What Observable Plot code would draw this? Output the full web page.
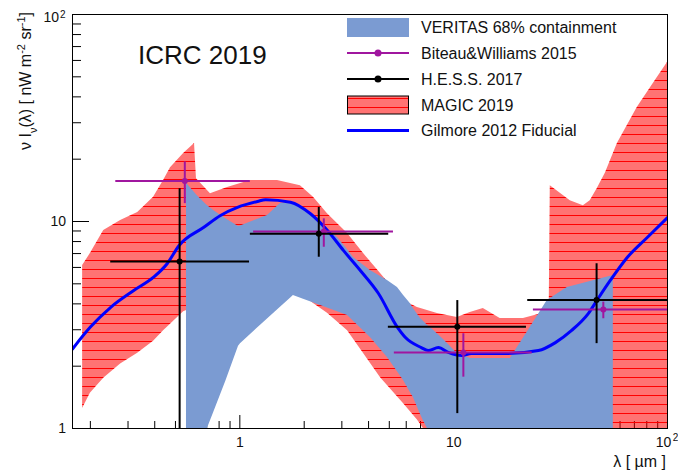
<!DOCTYPE html>
<html>
<head>
<meta charset="utf-8">
<script src="https://cdn.jsdelivr.net/npm/d3@7"></script>
<script src="https://cdn.jsdelivr.net/npm/@observablehq/plot@0.6"></script>
<style>
  body { margin: 0; background: #fff; }
  svg { display: block; }
</style>
</head>
<body>
<div id="chart"></div>
<script>
// ---- Extragalactic background light: nu I_nu(lambda) in nW m^-2 sr^-1 vs lambda in um ----

// VERITAS 68% containment band
const veritasLambda = [0.563, 0.63, 0.70, 0.754, 0.86, 0.986, 1.007, 1.347, 1.549, 1.725, 1.78, 1.985, 2.385, 2.863, 3.19, 3.40, 4.08, 4.90, 5.46, 5.82, 6.28, 6.48, 7.0, 7.22, 7.54, 8.0, 8.94, 10.4, 12.0, 18.4, 22.3, 27.4, 34.0, 55.8];
const veritasHigh   = [15.3, 13.4, 12.0, 11.3, 10.3, 9.46, 9.5, 10.7, 12.2, 12.4, 12.3, 11.6, 9.78, 8.37, 7.3, 6.70, 5.80, 5.19, 4.80, 4.4, 4.0, 3.8, 3.4, 3.3, 3.15, 3.0, 2.7, 2.3, 2.18, 2.18, 2.97, 4.15, 4.80, 5.48];
const veritasLow    = [0.95, 0.96, 0.98, 1.19, 1.69, 2.50, 2.57, 3.38, 3.85, 4.26, 4.39, 4.21, 3.93, 3.66, 3.51, 3.30, 2.75, 2.20, 1.88, 1.71, 1.49, 1.41, 1.17, 1.09, 1.0, 0.9, 0.8, 0.7, 0.7, 0.6, 0.6, 0.6, 0.5, 0.5];

// MAGIC 2019 band
const magicLambda = [0.184, 0.200, 0.231, 0.277, 0.333, 0.395, 0.440, 0.474, 0.546, 0.614, 0.627, 0.729, 0.876, 1.122, 1.50, 1.92, 2.21, 2.57, 3.19, 3.79, 4.55, 5.82, 6.77, 8.39, 10.4, 11.96, 13.76, 16.5, 21.2, 25.97, 28.0, 28.3, 35.1, 40.4, 43.5, 46.9, 51.2, 58.3, 72.2, 87.7, 100];
const magicHigh   = [6.13, 7.0, 9.05, 10.1, 11.05, 13.1, 15.8, 18.2, 21.3, 23.8, 16.1, 13.6, 14.6, 15.8, 15.8, 14.9, 13.1, 10.9, 8.75, 7.0, 5.61, 4.15, 3.84, 3.59, 3.44, 3.63, 3.80, 3.40, 3.40, 3.59, 4.15, 14.9, 12.6, 11.9, 12.6, 14.4, 17.1, 23.8, 35.5, 48.0, 58.6];
const magicLow    = [1.25, 1.48, 1.75, 2.05, 2.31, 2.64, 2.97, 3.19, 3.66, 3.85, 3.9, 4.1, 4.3, 4.55, 4.6, 4.5, 4.02, 3.6, 2.97, 2.30, 1.76, 1.32, 1.1, 0.8, 0.5, 0.5, 0.5, 0.5, 0.5, 0.5, 0.5, 0.5, 0.5, 0.5, 0.5, 0.5, 0.5, 0.5, 0.5, 0.5, 0.5];

// Gilmore 2012 fiducial model
const gilmoreLambda = [0.165, 0.2, 0.249, 0.319, 0.395, 0.458, 0.52, 0.676, 0.812, 0.975, 1.21, 1.32, 1.725, 2.14, 2.57, 3.05, 3.66, 4.45, 5.46, 5.95, 7.06, 7.6, 8.48, 9.44, 10.9, 12.1, 17.5, 24.9, 29.9, 35.5, 42.6, 47.4, 54.0, 64.8, 80.4, 100];
const gilmoreNuI    = [2.42, 3.09, 3.85, 4.64, 5.38, 6.27, 7.66, 9.35, 10.7, 11.7, 12.5, 12.75, 12.4, 10.9, 9.05, 7.25, 5.80, 4.49, 3.08, 2.75, 2.46, 2.38, 2.46, 2.33, 2.25, 2.30, 2.30, 2.38, 2.60, 2.97, 3.59, 4.25, 5.19, 6.70, 8.37, 10.45];

// Biteau & Williams 2015
const biteauLambda     = [0.553, 2.47, 11.1, 50.1];
const biteauLambdaLow  = [0.263, 1.16, 5.28, 23.6];
const biteauLambdaHigh = [1.12, 5.23, 23.3, 106];
const biteauNuI        = [15.7, 8.95, 2.33, 3.76];
const biteauNuILow     = [12.2, 7.51, 1.77, 3.39];
const biteauNuIHigh    = [19.4, 10.3, 2.87, 4.08];

// H.E.S.S. 2017
const hessLambda     = [0.523, 2.34, 10.4, 46.6];
const hessLambdaLow  = [0.249, 1.12, 4.95, 22.2];
const hessLambdaHigh = [1.11, 4.97, 21.9, 100];
const hessNuI        = [6.41, 8.72, 3.10, 4.18];
const hessNuILow     = [0.5, 6.72, 1.18, 2.57];
const hessNuIHigh    = [14.4, 11.7, 4.15, 6.25];

// Axis ticks
const decadeTicks = [1, 10, 100];
const xMinorTicks = [0.2, 0.3, 0.4, 0.5, 0.6, 0.7, 0.8, 0.9, 2, 3, 4, 5, 6, 7, 8, 9, 20, 30, 40, 50, 60, 70, 80, 90];
const yMinorTicks = [2, 3, 4, 5, 6, 7, 8, 9, 20, 30, 40, 50, 60, 70, 80, 90];

const legendLabels = ["VERITAS 68% containment", "Biteau&Williams 2015", "H.E.S.S. 2017", "MAGIC 2019", "Gilmore 2012 Fiducial"];
const plotTitle = "ICRC 2019";

const FONT = "'Liberation Sans', Arial, Helvetica, sans-serif";
const VERITAS_BLUE = "#7b9bd2";
const PURPLE = "#a0169f";
const GILMORE_BLUE = "#0000ff";
const MAGIC_FILL = "url(#magicHatch)";

const veritas = veritasLambda.map((x, i) => ({x, lo: veritasLow[i], hi: veritasHigh[i]}));
const magic = magicLambda.map((x, i) => ({x, lo: magicLow[i], hi: magicHigh[i]}));
const gilmore = gilmoreLambda.map((x, i) => ({x, y: gilmoreNuI[i]}));
const biteau = biteauLambda.map((x, i) => ({x, y: biteauNuI[i], xlo: biteauLambdaLow[i], xhi: biteauLambdaHigh[i], ylo: biteauNuILow[i], yhi: biteauNuIHigh[i]}));
const hess = hessLambda.map((x, i) => ({x, y: hessNuI[i], xlo: hessLambdaLow[i], xhi: hessLambdaHigh[i], ylo: hessNuILow[i], yhi: hessNuIHigh[i]}));

const noText = () => "";

// Legend drawn in the upper right of the frame, plus the conference label
function legend() {
  const g = d3.create("svg:g").attr("font-family", FONT).attr("font-size", 16).attr("fill", "#111").attr("text-anchor", "start");
  const x0 = 347, x1 = 409, xt = 421, rows = [27.5, 53, 79, 105, 130.5];
  g.append("rect").attr("x", x0).attr("y", rows[0] - 9.5).attr("width", x1 - x0).attr("height", 19).attr("fill", VERITAS_BLUE);
  g.append("line").attr("x1", x0).attr("x2", x1).attr("y1", rows[1]).attr("y2", rows[1]).attr("stroke", PURPLE).attr("stroke-width", 2);
  g.append("circle").attr("cx", (x0 + x1) / 2).attr("cy", rows[1]).attr("r", 3.5).attr("fill", PURPLE);
  g.append("line").attr("x1", x0).attr("x2", x1).attr("y1", rows[2]).attr("y2", rows[2]).attr("stroke", "black").attr("stroke-width", 2);
  g.append("circle").attr("cx", (x0 + x1) / 2).attr("cy", rows[2]).attr("r", 3.5).attr("fill", "black");
  g.append("rect").attr("x", x0 + 0.5).attr("y", rows[3] - 9).attr("width", x1 - x0 - 1).attr("height", 18).attr("fill", MAGIC_FILL).attr("stroke", "black").attr("stroke-width", 1);
  g.append("line").attr("x1", x0).attr("x2", x1).attr("y1", rows[4]).attr("y2", rows[4]).attr("stroke", GILMORE_BLUE).attr("stroke-width", 3);
  legendLabels.forEach((t, i) => {
    g.append("text").attr("x", xt).attr("y", rows[i] + 5.6).text(t);
  });
  g.append("text").attr("x", 138).attr("y", 63.5).attr("font-size", 26).text(plotTitle);
  return g.node();
}

// Axis titles with sub/superscripts
function axisTitles() {
  const g = d3.create("svg:g").attr("font-family", FONT).attr("font-size", 16).attr("fill", "#111");
  const yt = g.append("text").attr("transform", "translate(31,12) rotate(-90)").attr("text-anchor", "end");
  yt.append("tspan").text("\u03bd I");
  yt.append("tspan").attr("baseline-shift", "sub").attr("font-size", 11).text("\u03bd");
  yt.append("tspan").text("(\u03bb) [ nW m");
  yt.append("tspan").attr("baseline-shift", "super").attr("font-size", 11).text("-2");
  yt.append("tspan").text(" sr");
  yt.append("tspan").attr("baseline-shift", "super").attr("font-size", 11).text("-1");
  yt.append("tspan").text("]");
  g.append("text").attr("x", 666).attr("y", 467).attr("text-anchor", "end").text("\u03bb [ \u00b5m ]");
  return g.node();
}

const labelStyle = {fontSize: 14, fill: "#111"};

const chart = Plot.plot({
  width: 678,
  height: 470,
  marginTop: 14,
  marginRight: 11,
  marginBottom: 42,
  marginLeft: 72,
  style: {fontFamily: FONT, fontSize: "14px", background: "white", color: "black"},
  x: {type: "log", domain: [0.165, 100]},
  y: {type: "log", domain: [1, 100]},
  marks: [
    // inward ticks
    Plot.axisX(decadeTicks, {anchor: "bottom", tickSize: -13, tickFormat: noText, label: null}),
    Plot.axisX(xMinorTicks, {anchor: "bottom", tickSize: -7, tickFormat: noText, label: null}),
    Plot.axisY(decadeTicks, {anchor: "left", tickSize: -17, tickFormat: noText, label: null}),
    Plot.axisY(yMinorTicks, {anchor: "left", tickSize: -9, tickFormat: noText, label: null}),

    // bands
    Plot.areaY(magic, {x: "x", y1: "lo", y2: "hi", fill: MAGIC_FILL, clip: true}),
    Plot.areaY(veritas, {x: "x", y1: "lo", y2: "hi", fill: VERITAS_BLUE, clip: true}),

    // model
    Plot.line(gilmore, {x: "x", y: "y", stroke: GILMORE_BLUE, strokeWidth: 3, curve: "monotone-x", clip: true}),

    // measurements with error bars
    Plot.ruleY(biteau, {y: "y", x1: "xlo", x2: "xhi", stroke: PURPLE, strokeWidth: 2, clip: true}),
    Plot.ruleX(biteau, {x: "x", y1: "ylo", y2: "yhi", stroke: PURPLE, strokeWidth: 2, clip: true}),
    Plot.dot(biteau, {x: "x", y: "y", r: 3, fill: PURPLE, clip: true}),
    Plot.ruleY(hess, {y: "y", x1: "xlo", x2: "xhi", stroke: "black", strokeWidth: 2, clip: true}),
    Plot.ruleX(hess, {x: "x", y1: "ylo", y2: "yhi", stroke: "black", strokeWidth: 2, clip: true}),
    Plot.dot(hess, {x: "x", y: "y", r: 3, fill: "black", clip: true}),

    Plot.frame({stroke: "black"}),

    // tick labels
    Plot.text(decadeTicks.filter((d) => d < 100), {y: (d) => d, text: (d) => (d === 1 ? "1" : "10"), frameAnchor: "left", dx: -6.5, textAnchor: "end", ...labelStyle}),
    Plot.text(decadeTicks.filter((d) => d === 100), {y: (d) => d, text: () => "10", frameAnchor: "left", dx: -13.5, dy: 3.5, textAnchor: "end", ...labelStyle}),
    Plot.text(decadeTicks.filter((d) => d === 100), {y: (d) => d, text: () => "2", frameAnchor: "left", dx: -7, dy: 0, textAnchor: "end", fontSize: 10, fill: "#111"}),
    Plot.text(decadeTicks.filter((d) => d < 100), {x: (d) => d, text: (d) => (d === 1 ? "1" : "10"), frameAnchor: "bottom", dy: 18, ...labelStyle}),
    Plot.text(decadeTicks.filter((d) => d === 100), {x: (d) => d, text: () => "10", frameAnchor: "bottom", dx: -4, dy: 18, ...labelStyle}),
    Plot.text(decadeTicks.filter((d) => d === 100), {x: (d) => d, text: () => "2", frameAnchor: "bottom", dx: 8, dy: 12, fontSize: 10, fill: "#111"}),

    axisTitles,
    legend
  ]
});

// hatch pattern for the MAGIC band: translucent red with a solid red line every 9 px
const defs = d3.select(chart).insert("defs", ":first-child");
const pat = defs.append("pattern")
  .attr("id", "magicHatch")
  .attr("patternUnits", "userSpaceOnUse")
  .attr("x", 0).attr("y", 0)
  .attr("width", 9).attr("height", 9);
pat.append("rect").attr("x", 0).attr("y", 0).attr("width", 9).attr("height", 8).attr("fill", "#ff0000").attr("fill-opacity", 0.55);
pat.append("rect").attr("x", 0).attr("y", 8).attr("width", 9).attr("height", 1).attr("fill", "#ff0000");

document.getElementById("chart").appendChild(chart);
</script>
</body>
</html>
